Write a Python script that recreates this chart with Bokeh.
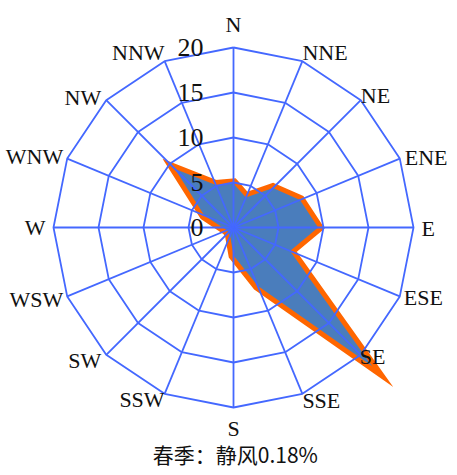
import numpy as np
from bokeh.plotting import figure
from bokeh.models import Label
from bokeh.embed import file_html
from bokeh.resources import INLINE
from bokeh.core.properties import value

# ---- data ----
directions = ["N", "NNE", "NE", "ENE", "E", "ESE", "SE", "SSE",
              "S", "SSW", "SW", "WSW", "W", "WNW", "NW", "NNW"]
frequency = [4.9, 3.6, 6.2, 8.0, 9.4, 6.8, 21.8, 7.0,
             3.1, 1.0, 0.8, 0.8, 1.2, 3.5, 9.2, 5.1]
ring_levels = [0, 5, 10, 15, 20]
ring_labels = ["0", "5", "10", "15", "20"]
title_text = "春季：静风0.18%"

# ---- layout ----
PX = 9.0            # pixels per data unit
W, H = 449, 467
CX, CY = 233, 227   # center in figure pixels
n = len(directions)
ang = np.deg2rad(np.arange(n) * 360.0 / n)
sx, sy = np.sin(ang), np.cos(ang)
rmax = ring_levels[-1]

p = figure(width=W, height=H, output_backend="svg", toolbar_location=None,
           x_range=(-CX / PX, (W - CX) / PX), y_range=(-(H - CY) / PX, CY / PX),
           min_border=0, outline_line_color=None)
p.axis.visible = False
p.grid.visible = False
p.background_fill_color = "white"

# data polygon: orange outline beneath, blue fill on top
fr = np.array(frequency)
px_, py_ = fr * sx, fr * sy
p.patch(list(px_), list(py_), fill_color=None, line_color="#ff6600",
        line_width=10, line_join="miter")
p.patch(list(px_), list(py_), fill_color="#4a7dbc", line_color=None)

grid_color = "#4468ff"
# rings
for lv in ring_levels[1:]:
    xs = list(lv * sx) + [lv * sx[0]]
    ys = list(lv * sy) + [lv * sy[0]]
    p.line(xs, ys, line_color=grid_color, line_width=1.8)
# spokes
p.segment(x0=[0] * n, y0=[0] * n, x1=list(rmax * sx), y1=list(rmax * sy),
          line_color=grid_color, line_width=1.8)

# direction labels
offsets = {
    "N": (0, -23, "center"), "NNE": (0, -9, "left"), "NE": (0, -5, "left"),
    "ENE": (5, -1, "left"), "E": (8, 1, "left"), "ESE": (4, 1, "left"),
    "SE": (-1, 2, "left"), "SSE": (0, 7, "left"), "S": (0, 21, "center"),
    "SSW": (0, 6, "right"), "SW": (-5, 6, "right"), "WSW": (-4, 3, "right"),
    "W": (-8, 0, "right"), "WNW": (-4, -2, "right"), "NW": (-5, -3, "right"),
    "NNW": (0, -9, "right"),
}
for i, d in enumerate(directions):
    ox, oy, al = offsets[d]
    p.text(x=[rmax * sx[i] + ox / PX], y=[rmax * sy[i] - oy / PX], text=[d],
           text_font=value("Liberation Serif"), text_font_size="22px",
           text_align=al, text_baseline="middle", text_color="#111111")

# ring value labels
p.text(x=[-30 / PX] * len(ring_levels), y=ring_levels, text=ring_labels,
       text_font=value("Liberation Serif"), text_font_size="26px",
       text_align="right", text_baseline="middle", text_color="#111111")

# bottom caption
p.add_layout(Label(x=0.2, y=-(453 - 227) / PX, text=title_text,
                   text_font="Noto Sans CJK SC", text_font_size="21px",
                   text_align="center", text_baseline="middle",
                   text_color="#111111"))

open("out.html", "w").write(file_html(p, INLINE))
